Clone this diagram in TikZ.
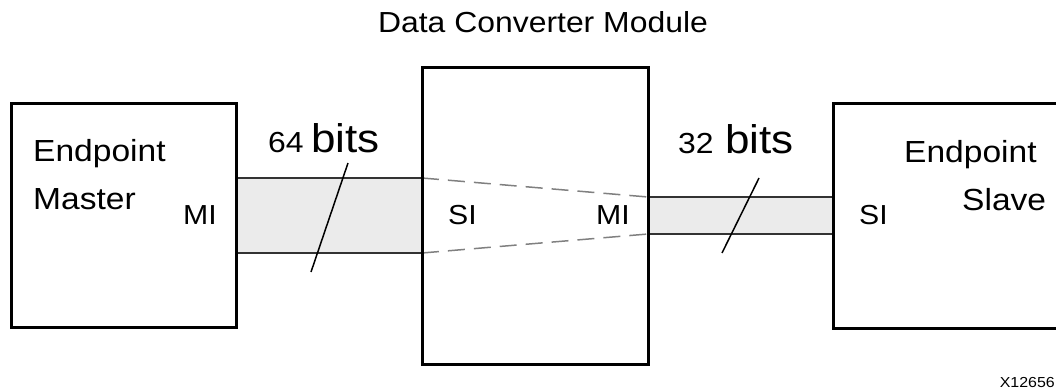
\documentclass[tikz,border=0pt]{standalone}
\usepackage{fontspec}
\setmainfont{Liberation Sans}[FakeStretch=1.1]
\definecolor{busfill}{HTML}{EBEBEB}
\definecolor{busline}{HTML}{333333}
\definecolor{dashgray}{HTML}{808080}
\begin{document}
\begin{tikzpicture}[x=1pt,y=-1pt,
  box/.style={draw=black, line width=3pt, inner sep=0pt, outer sep=0pt, anchor=north west},
  lbl/.style={anchor=base west, inner sep=0pt, font=\fontsize{30.5}{30.5}\selectfont},
  port/.style={anchor=base west, inner sep=0pt, font=\fontsize{27.5}{27.5}\selectfont},
  num/.style={anchor=base west, inner sep=0pt, font=\fontsize{29}{29}\selectfont},
  bitsw/.style={anchor=base west, inner sep=0pt, font=\fontsize{40}{40}\selectfont},
  busedge/.style={draw=busline, line width=1.5pt},
  dashedge/.style={draw=dashgray, line width=1.5pt, dash pattern=on 17pt off 9pt},
  slash/.style={draw=black, line width=1.5pt}]
\useasboundingbox (0,0) rectangle (1056,391);
\clip (0,0) rectangle (1056,391);
% boxes
\node[box, minimum width=225pt, minimum height=224pt] (master) at (11,103) {};
\node[box, minimum width=226pt, minimum height=297pt] (conv) at (422,67) {};
\node[box, minimum width=240pt, minimum height=225pt] (slave) at (833,103) {};
% bus coordinates
\coordinate (b1tl) at (master.east |- 0,178);
\coordinate (b1bl) at (master.east |- 0,253);
\coordinate (b1tr) at (conv.west |- 0,178);
\coordinate (b1br) at (conv.west |- 0,253);
\coordinate (b2tl) at (conv.east |- 0,197);
\coordinate (b2bl) at (conv.east |- 0,234);
\coordinate (b2tr) at (slave.west |- 0,197);
\coordinate (b2br) at (slave.west |- 0,234);
% buses
\fill[busfill] (b1tl) rectangle (b1br);
\fill[busfill] (b2tl) rectangle (b2br);
\draw[busedge] (b1tl) -- (b1tr);
\draw[busedge] (b1bl) -- (b1br);
\draw[busedge] (b2tl) -- (b2tr);
\draw[busedge] (b2bl) -- (b2br);
\draw[dashedge] (b1tr) -- (b2tl);
\draw[dashedge] (b1br) -- (b2bl);
% redraw box borders on top
\node[box, minimum width=225pt, minimum height=224pt] at (11,103) {};
\node[box, minimum width=226pt, minimum height=297pt] at (422,67) {};
\node[box, minimum width=240pt, minimum height=225pt] at (833,103) {};
% slashes
\coordinate (s1a) at (348,163);
\coordinate (s1b) at (311,272);
\coordinate (s2a) at (759,178);
\coordinate (s2b) at (722,253);
\draw[slash] (s1a) -- (s1b);
\draw[slash] (s2a) -- (s2b);
% texts
\node[anchor=base, inner sep=0pt, font=\fontsize{29}{29}\selectfont] (title) at (543,32) {Data Converter Module};
\node[lbl] (mEnd) at (33,161) {Endpoint};
\node[lbl] (mMas) at (33,209) {Master};
\node[port] (mMI) at (183,224) {MI};
\node[port] (cSI) at (448,224) {SI};
\node[port] (cMI) at (596,224) {MI};
\node[lbl] (sEnd) at (904,162) {Endpoint};
\node[lbl] (sSla) at (962,210) {Slave};
\node[port] (sSI) at (859,224) {SI};
\node[num] (n64) at (268,152) {64};
\node[bitsw] (b64) at (311,152) {bits};
\node[num] (n32) at (678,153) {32};
\node[bitsw] (b32) at (725,153) {bits};
\node[anchor=base east, inner sep=0pt, font=\fontsize{14.5}{14.5}\selectfont] (fig) at (1055,387) {X12656};
\end{tikzpicture}
\end{document}
